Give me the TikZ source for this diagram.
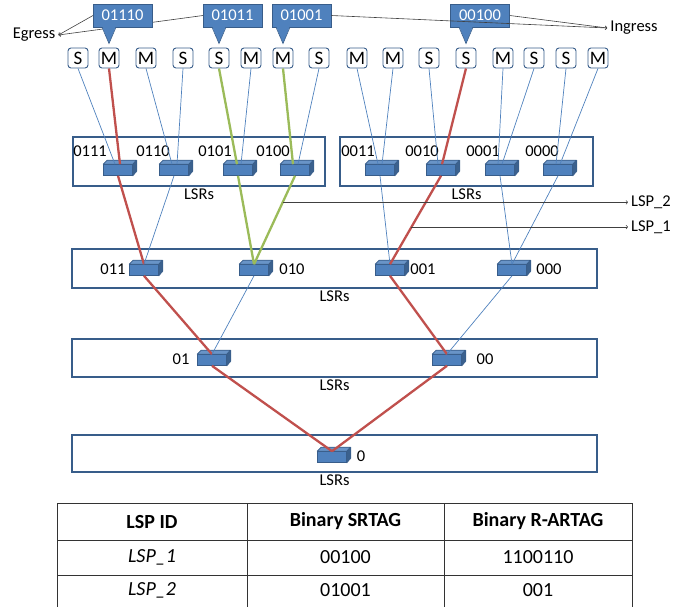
\documentclass[tikz,border=0pt]{standalone}
\usepackage{fontspec}
\setmainfont{Carlito}
\usetikzlibrary{positioning,calc}

\definecolor{lsrblue}{HTML}{4F81BD}
\definecolor{lsrdark}{HTML}{385D8A}
\definecolor{lspred}{HTML}{C0504D}
\definecolor{lspgreen}{HTML}{9BBB59}

\tikzset{
  every node/.style={font=\fontsize{16.5}{18}\selectfont},
  port/.style={draw=lsrdark, fill=white, line width=0.9pt, rounded corners=3pt,
    minimum width=20pt, minimum height=20pt, inner sep=0pt, font=\fontsize{19}{20}\selectfont},
  level/.style={draw=lsrdark, line width=1.2pt, inner sep=0pt},
  lsr/.style={draw=lsrdark, fill=lsrblue, line width=0.6pt,
    minimum width=29pt, minimum height=11pt, inner sep=0pt},
  tag/.style={draw=lsrdark, fill=lsrblue, text=white, line width=0.6pt,
    minimum width=59pt, minimum height=23pt, inner sep=0pt},
  wire/.style={lsrblue, line width=0.7pt},
  lsp1/.style={lspred, line width=2.3pt},
  lsp2/.style={lspgreen, line width=2.3pt},
  pointer/.style={->, black!75, line width=0.6pt},
  cell/.style={font=\fontsize{20}{24}\selectfont, inner sep=0pt}
}

% one label switching router as a small box
\newcommand\lsrdev[2]{%
  \node [lsr] (#1) at (#2) {};
  \filldraw [lsrdark, fill=lsrblue!85!white, line width=0.6pt, line join=round]
    (#1.north west) -- ++(4pt,4pt) -- ++(29pt,0pt) -- (#1.north east) -- cycle;
  \filldraw [lsrdark, fill=lsrblue!75!black, line width=0.6pt, line join=round]
    (#1.north east) -- ++(4pt,4pt) -- ++(0pt,-11pt) -- (#1.south east) -- cycle;}

\begin{document}
\begin{tikzpicture}[x=1pt, y=-1pt, >=to]
\useasboundingbox (0,0) rectangle (676,606);

% ports
\foreach \t/\x [count=\i] in {S/78,M/109,M/146,S/183,S/219,M/251,M/283,S/319,M/357,M/393,S/429,S/466,M/503,S/534,S/566,M/598}
  \node [port] (port-\i) at (\x,58) {\t};

% levels of LSRs
\node [level, minimum width=252pt, minimum height=49pt] (level-1a) at (199,161.5) {};
\node [level, minimum width=253pt, minimum height=49pt] (level-1b) at (466.5,161.5) {};
\node [level, minimum width=525pt, minimum height=39pt] (level-2) at (334.5,268.5) {};
\node [level, minimum width=525pt, minimum height=38pt] (level-3) at (334.5,358) {};
\node [level, minimum width=525pt, minimum height=37pt] (level-4) at (334.5,453.5) {};

\foreach \l in {1a,1b,2,3,4}
  \node [below=2pt of level-\l, inner sep=0pt] (lsrs-\l) {LSRs};

% routers
\foreach \n/\x in {0111/118,0110/174,0101/238,0100/295,0011/380,0010/441,0001/500,0000/558}
  {\lsrdev{d\n}{\x,170}}
\foreach \n/\x in {011/144,010/254,001/390,000/512}
  {\lsrdev{d\n}{\x,270}}
\foreach \n/\x in {01/212,00/447}
  {\lsrdev{d\n}{\x,360}}
\lsrdev{d0}{332,457}

% router labels
\foreach \n/\x in {0111/90,0110/153,0101/215,0100/273,0011/358,0010/422,0001/483,0000/542}
  \node (label-\n) at (\x,151) {\n};
\foreach \n/\x in {011/113,010/292,001/423,000/549}
  \node (label-\n) at (\x,269) {\n};
\foreach \n/\x in {01/181,00/485}
  \node (label-\n) at (\x,359) {\n};
\node (label-0) at (361,456) {0};

% ports to first level
\foreach \p/\d/\s/\o in {1/0111/wire/-3,2/0111/lsp1/2,3/0110/wire/-2,4/0110/wire/3,
    5/0101/lsp2/-1,6/0101/wire/3,7/0100/lsp2/-2,8/0100/wire/3,
    9/0011/wire/-2,10/0011/wire/2,11/0010/wire/-3,12/0010/lsp1/1,
    13/0001/wire/-2,14/0001/wire/2,15/0000/wire/-2,16/0000/wire/2}
  \draw [\s] (port-\p.south) -- ([xshift=\o pt]d\d.north);

% between levels
\foreach \a/\b/\s in {0111/011/lsp1,0110/011/wire,0101/010/lsp2,0100/010/lsp2,
    0011/001/wire,0010/001/lsp1,0001/000/wire,0000/000/wire,
    011/01/lsp1,010/01/wire,001/00/lsp1,000/00/wire,01/0/lsp1,00/0/lsp1}
  \draw [\s] (d\a.south) -- (d\b.north);

% egress and ingress
\node [inner sep=3pt] (egress) at (34,35) {Egress};
\node [inner sep=3pt] (ingress) at (634,28) {Ingress};

\coordinate (tag-a) at (93,15.5);
\coordinate (tag-b) at (203,15.5);
\draw [pointer] (tag-a) -- (egress.east);
\draw [pointer] (tag-b) -- (egress.east);

% SRTAG callouts
\foreach \t/\x/\p in {01110/122.5/2,01011/232.5/5,01001/301.5/7,00100/480/12}{
  \node [tag] (tag-\t) at (\x,15.5) {\t};
  \fill [lsrblue] ($(tag-\t.south -| port-\p.north)+(-7pt,1pt)$) -- ([yshift=4pt]port-\p.north)
    -- ($(tag-\t.south -| port-\p.north)+(7pt,1pt)$) -- cycle;
  \draw [lsrdark, line width=0.6pt] ($(tag-\t.south -| port-\p.north)+(-7pt,0pt)$)
    -- ([yshift=4pt]port-\p.north) -- ($(tag-\t.south -| port-\p.north)+(7pt,0pt)$);
}

\draw [pointer] (tag-01001.east) -- (ingress.west);
\draw [pointer] (tag-00100.east) -- (ingress.west);

% the two LSPs
\coordinate (lsp2-start) at ($(d0100.south)!.3!(d010.north)$);
\coordinate (lsp1-start) at ($(d0010.south)!.58!(d001.north)$);
\node [anchor=west, inner sep=3pt] (lsp-2) at (lsp2-start -| 628,0) {LSP\_2};
\node [anchor=west, inner sep=3pt] (lsp-1) at (lsp1-start -| 628,0) {LSP\_1};
\draw [pointer] (lsp2-start) -- (lsp-2.west);
\draw [pointer] (lsp1-start) -- (lsp-1.west);

% table
\draw [black!80, line width=0.8pt] (57,503) rectangle (632,614);
\draw [black!80, line width=0.8pt] (57,540) -- (632,540) (57,575) -- (632,575)
  (247,503) -- (247,614) (444,503) -- (444,614);
\foreach \t/\x [count=\c] in {LSP ID/152,Binary SRTAG/345.5,Binary R-ARTAG/538}
  \node [cell, font=\fontsize{20}{24}\selectfont\bfseries] (head-\c) at (\x,521.5) {\t};
\foreach \a/\b/\c/\y [count=\r] in {LSP\_1/00100/1100110/557.5,LSP\_2/01001/001/590.5}{
  \node [cell, font=\fontsize{20}{24}\selectfont\itshape] (id-\r) at (152,\y) {\a};
  \node [cell] (srtag-\r) at (345.5,\y) {\b};
  \node [cell] (artag-\r) at (538,\y) {\c};
}
\end{tikzpicture}
\end{document}
